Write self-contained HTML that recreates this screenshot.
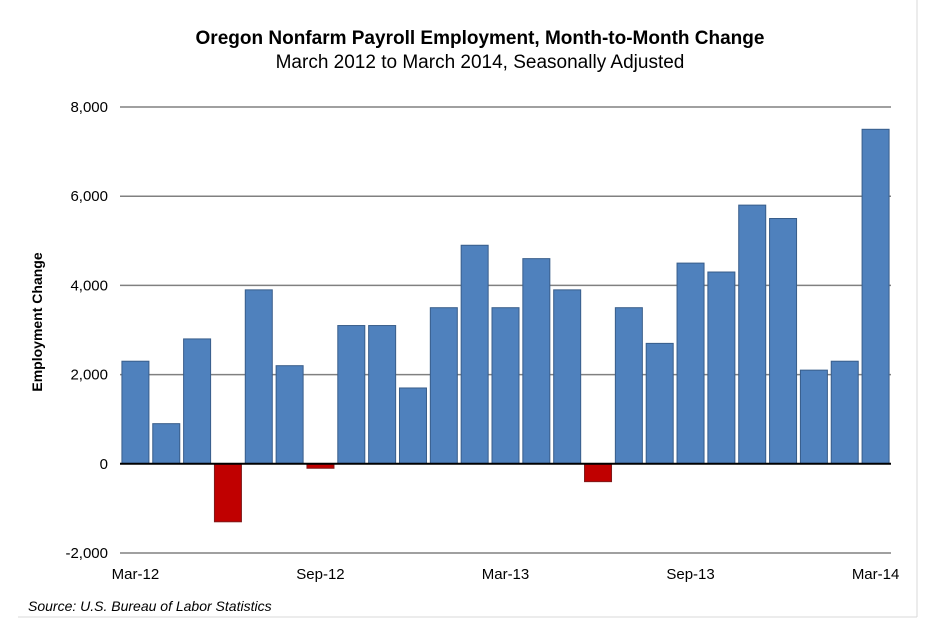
<!DOCTYPE html>
<html><head><meta charset="utf-8"><style>
body{margin:0;background:#fff;font-family:"Liberation Sans",sans-serif;}
</style></head><body>
<svg width="940" height="624" xmlns="http://www.w3.org/2000/svg" style="font-family:'Liberation Sans',sans-serif">
<line x1="917" y1="0" x2="917" y2="617" stroke="#d9d9d9"/>
<line x1="18" y1="617" x2="917" y2="617" stroke="#d9d9d9"/>
<text x="480" y="44" text-anchor="middle" font-size="19" font-weight="bold">Oregon Nonfarm Payroll Employment, Month-to-Month Change</text>
<text x="480" y="68" text-anchor="middle" font-size="19">March 2012 to March 2014, Seasonally Adjusted</text>
<text transform="translate(42,322) rotate(-90)" text-anchor="middle" font-size="14" font-weight="bold">Employment Change</text>
<text x="28" y="611" font-size="14" font-style="italic">Source: U.S. Bureau of Labor Statistics</text>
<g id="grid"></g><g id="bars"></g><g id="xl"></g>
</svg>
<script>
const categories=["Mar-12","Apr-12","May-12","Jun-12","Jul-12","Aug-12","Sep-12","Oct-12","Nov-12","Dec-12","Jan-13","Feb-13","Mar-13","Apr-13","May-13","Jun-13","Jul-13","Aug-13","Sep-13","Oct-13","Nov-13","Dec-13","Jan-14","Feb-14","Mar-14"];
const values=[2300,900,2800,-1300,3900,2200,-100,3100,3100,1700,3500,4900,3500,4600,3900,-400,3500,2700,4500,4300,5800,5500,2100,2300,7500];
const yTicks=[-2000,0,2000,4000,6000,8000];
const xLabels=["Mar-12","Sep-12","Mar-13","Sep-13","Mar-14"];
const NS="http://www.w3.org/2000/svg";
const L=120,R=891,T=107,B=553,ymin=-2000,ymax=8000;
const y=v=>B-(v-ymin)/(ymax-ymin)*(B-T);
const slot=(R-L)/categories.length;
const xc=i=>L+slot*(i+0.5);
function mk(t,a,p){const e=document.createElementNS(NS,t);for(const k in a)e.setAttribute(k,a[k]);p.appendChild(e);return e;}
const grid=document.getElementById('grid'),bars=document.getElementById('bars'),xl=document.getElementById('xl');
yTicks.forEach(v=>{
 if(v!==0){const g=mk('line',{x1:L,x2:R,y1:y(v),y2:y(v),stroke:'#808080','stroke-width':1.5},grid);
 
 }
 const t=mk('text',{x:L-12,y:y(v)+5,'text-anchor':'end','font-size':15},grid);t.textContent=v.toLocaleString('en-US');
 
 
});
values.forEach((v,i)=>{
 const bw=27,top=Math.min(y(v),y(0)),h=Math.abs(y(v)-y(0));
 const r=mk('rect',{x:xc(i)-bw/2,y:top,width:bw,height:h,fill:v<0?'#c00000':'#4f81bd',stroke:v<0?'#7f1a1a':'#385d8a','stroke-width':1},bars);
 
 
});
const z=mk('line',{x1:L,x2:R,y1:y(0),y2:y(0),stroke:'#000','stroke-width':2},bars);


xLabels.forEach(lab=>{
 const i=categories.indexOf(lab);
 const t=mk('text',{x:xc(i),y:579,'text-anchor':'middle','font-size':15},xl);t.textContent=lab;
 
 
});
</script>
</body></html>
